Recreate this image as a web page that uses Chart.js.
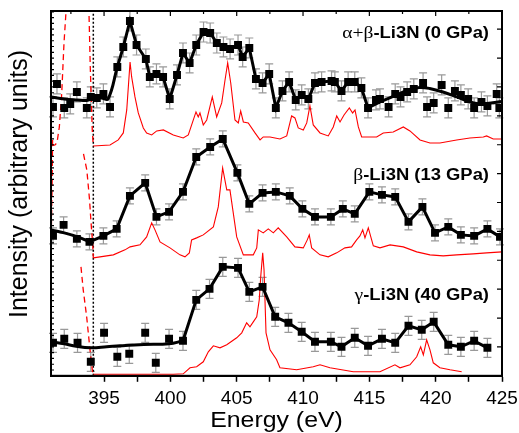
<!doctype html>
<html lang="en">
  <head>
    <meta charset="UTF-8" />
    <title>Li3N - N K-edge spectra</title>
    <script src="https://cdn.jsdelivr.net/npm/chart.js"></script>
    <style>
      html,
      body {
        margin: 0;
        padding: 0;
        background: #fff;
      }
    </style>
  </head>
  <body>
    <canvas id="spectra" width="519" height="433"></canvas>

    <script>
      // measured points [energy (eV), intensity (arb.)]
      const topPts = [
        [391.15, 269], [391.45, 292], [392.0, 268], [392.45, 272], [392.95, 284], [393.7, 268],
        [394.0, 279], [394.45, 278], [394.95, 282], [395.45, 269], [396.0, 309], [396.45, 329],
        [396.95, 355], [397.45, 331], [398.15, 317], [398.45, 299], [398.95, 302], [399.45, 299],
        [399.95, 277], [400.5, 301], [400.95, 323], [401.45, 313], [401.95, 331], [402.5, 344],
        [403.0, 343], [403.5, 333], [404.0, 329], [404.5, 327], [405.1, 331], [405.45, 319],
        [405.95, 328], [406.45, 297], [406.95, 293], [407.45, 302], [407.95, 268], [408.45, 285],
        [408.95, 294], [409.45, 276], [409.9, 281], [410.4, 277], [410.9, 293], [411.4, 294],
        [412.15, 295], [412.4, 294], [412.9, 285], [413.4, 294], [413.9, 294], [414.4, 288],
        [414.9, 268], [415.5, 276], [415.8, 277], [416.45, 269], [416.95, 282], [417.35, 279],
        [417.85, 284], [418.35, 287], [419.05, 293], [419.35, 269], [419.85, 273], [420.45, 291],
        [420.95, 268], [421.45, 285], [421.9, 281], [422.45, 277], [422.9, 268], [423.45, 274],
        [423.9, 270], [424.6, 282], [424.8, 268]
      ]
      const midPts = [
        [391.15, 140], [391.95, 151], [392.95, 137], [393.9, 134], [394.95, 140], [395.95, 147],
        [396.95, 180], [398.1, 193], [398.95, 159], [399.9, 164], [400.95, 184], [401.95, 219],
        [403.0, 229], [403.95, 237], [405.05, 203], [405.95, 172], [406.95, 183], [407.95, 184],
        [409.0, 180], [409.95, 167], [410.9, 159], [412.1, 159], [413.0, 167], [413.9, 162],
        [415.0, 184], [415.95, 181], [416.95, 179], [417.95, 154], [419.0, 169], [419.95, 143],
        [420.95, 149], [421.9, 141], [422.9, 140], [423.9, 147], [424.85, 139]
      ]
      const botPts = [
        [391.15, 33], [392.0, 37], [393.0, 33], [394.0, 14], [395.0, 43], [396.0, 19],
        [396.9, 22], [398.1, 43], [398.9, 13], [399.9, 37], [400.95, 35], [401.95, 76],
        [402.95, 87], [403.95, 109], [405.1, 108], [405.95, 84], [406.95, 89], [407.9, 59],
        [408.9, 53], [409.9, 44], [410.9, 34], [412.1, 34], [412.9, 29], [413.9, 38],
        [414.9, 30], [415.95, 37], [416.95, 33], [417.95, 50], [418.95, 46], [419.85, 54],
        [420.95, 31], [421.9, 29], [422.9, 35], [423.9, 28]
      ]
      // half height of the error bars, per panel
      const errTop = 10
      const errMid = 8
      const errBot = 9.5

      // smooth guide lines where points are not joined
      const topFitLeft = [[391.0, 279], [392.0, 277], [393.0, 276], [393.7, 275.5], [394.2, 277.5], [394.8, 278], [395.3, 277], [396.0, 309]]
      const topFitRight = [[414.9, 268], [415.8, 274], [417.05, 281], [418.05, 286.5], [418.8, 288.5], [419.55, 287.5], [420.55, 284], [421.6, 279], [422.6, 274], [423.1, 272.5], [423.85, 272.5], [425, 274.5]]
      const midFitLeft = [[391.0, 146], [392.0, 143], [393.0, 139], [393.9, 134]]
      const botFitLeft = [[391.0, 34], [392.0, 32], [392.9, 29.5], [394.0, 28], [395.2, 29], [396.2, 30], [398.0, 31.3], [399.9, 32], [400.95, 35]]

      // calculated spectra (red)
      const topCalc = [
        [394.19, 230], [395.45, 231], [396.07, 236], [396.45, 243], [396.71, 266], [396.96, 314],
        [397.08, 299], [397.33, 279], [397.58, 263], [397.96, 248], [398.21, 243], [398.59, 241],
        [398.97, 245], [399.47, 246], [400.22, 241], [400.97, 238], [401.35, 241], [401.73, 256],
        [401.93, 264], [402.1, 259], [402.23, 263], [402.48, 251], [402.74, 256], [403.16, 279],
        [403.49, 259], [403.87, 273], [404.12, 296], [404.32, 313], [404.55, 293], [404.87, 256],
        [405.12, 253], [405.3, 265], [405.5, 254], [405.87, 253], [406.38, 243], [406.76, 236],
        [407.0, 239], [407.51, 239], [408.26, 237], [408.77, 240], [409.14, 260], [409.39, 258],
        [409.64, 248], [410.02, 246], [410.28, 253], [410.52, 270], [410.77, 251], [411.28, 243],
        [411.9, 240], [412.28, 249], [412.54, 260], [412.79, 254], [413.09, 261], [413.49, 268],
        [413.74, 263], [413.92, 266], [414.17, 249], [414.42, 239], [415.05, 239], [415.55, 239],
        [416.05, 243], [416.8, 244], [417.56, 249], [418.06, 245], [418.82, 236], [419.57, 233],
        [420.32, 233], [421.58, 236], [422.58, 238], [423.59, 239], [423.84, 240], [424.34, 237],
        [425, 237]
      ]
      const midCalc = [
        [394.19, 118], [395.7, 121], [396.58, 126], [396.96, 129], [397.71, 131], [398.21, 139],
        [398.59, 153], [398.84, 146], [399.22, 134], [399.97, 128], [400.72, 121], [401.1, 119],
        [401.43, 123], [401.6, 136], [401.98, 138], [402.48, 141], [403.24, 149], [403.61, 169],
        [403.94, 208], [404.25, 186], [404.49, 186], [404.74, 163], [405.0, 139], [405.5, 121],
        [406.25, 121], [406.51, 128], [406.63, 146], [407.0, 143], [407.38, 147], [407.76, 143],
        [408.13, 148], [408.77, 139], [409.39, 129], [410.02, 128], [410.32, 136], [410.47, 141],
        [410.65, 128], [411.28, 121], [411.9, 119], [412.54, 123], [413.16, 128], [413.66, 129],
        [414.04, 136], [414.29, 140], [414.5, 146], [414.67, 138], [414.92, 148], [415.3, 130],
        [415.8, 128], [416.56, 131], [417.56, 129], [418.57, 124], [419.57, 121], [420.57, 120],
        [421.58, 121], [422.83, 122], [423.84, 123], [425, 124]
      ]
      const botCalc = [
        [394.19, 1.5], [400.22, 1.5], [400.97, 2], [401.48, 8], [401.98, 9], [402.48, 14],
        [402.86, 24], [403.24, 30], [403.74, 28], [404.25, 31], [405.0, 38], [405.38, 43],
        [405.75, 53], [406.0, 49], [406.25, 54], [406.51, 59], [406.7, 76], [406.81, 99],
        [406.96, 123], [407.06, 106], [407.21, 43], [407.51, 26], [408.01, 16], [408.26, 8],
        [409.52, 6], [410.77, 9], [411.28, 11], [412.03, 8], [413.79, 4], [415.8, 4],
        [416.93, 11], [417.31, 8], [418.06, 11], [418.57, 19], [418.87, 29], [419.07, 21],
        [419.32, 36], [419.57, 26], [419.82, 13], [420.32, 8], [421.08, 6], [421.96, 4]
      ]
      // off-scale parts of the calculated spectra (dashed)
      const topCalcEdgeA = [[391.0, 230], [391.3, 231], [391.45, 233], [391.63, 249], [391.81, 283], [391.98, 333], [392.13, 364], [392.2, 380]]
      const topCalcEdgeB = [[393.82, 380], [393.86, 365], [393.96, 309], [394.04, 276], [394.11, 246], [394.19, 230]]
      const midCalcEdgeA = [[391.02, 140], [391.08, 190], [391.12, 236]]
      const midCalcEdgeB = [[393.45, 222], [393.7, 206], [393.9, 177], [394.0, 157], [394.07, 144], [394.14, 133], [394.19, 118]]
      const botCalcEdge = [[393.26, 109], [393.43, 86], [393.69, 59], [393.94, 26], [394.14, 3], [394.19, 1.5]]

      const edgeEnergy = 394.19
      const panelGreek = ['α+β', 'β', 'γ']
      const panelNames = ['-Li3N (0 GPa)', '-Li3N (13 GPa)', '-Li3N (40 GPa)']

      const yMax = 365
      const yStep = 28.9
      const sans = '"Liberation Sans", Arial, sans-serif'

      const toXY = (arr) => arr.map(([x, y]) => ({ x, y }))
      const pointSet = (pts, err) => ({
        data: toXY(pts),
        err: err,
        showLine: false,
        pointStyle: 'rect',
        pointRadius: 5.6,
        backgroundColor: '#000',
        borderWidth: 0
      })
      const blackLine = (pts, tension) => ({
        data: toXY(pts),
        showLine: true,
        borderColor: '#000',
        borderWidth: 3,
        pointRadius: 0,
        tension: tension
      })
      const redLine = (pts, dash) => ({
        data: toXY(pts),
        showLine: true,
        borderColor: '#ff0000',
        borderWidth: dash ? 1.3 : 1.1,
        borderDash: dash || [],
        pointRadius: 0,
        clip: 0
      })

      // error bars go under the squares
      const errorBars = {
        id: 'errorBars',
        beforeDatasetsDraw: (chart) => {
          const ys = chart.scales.y
          const c = chart.ctx
          c.save()
          c.strokeStyle = '#999'
          c.lineWidth = 1.2
          chart.data.datasets.forEach((ds, i) => {
            if (!ds.err) return
            chart.getDatasetMeta(i).data.forEach((el, j) => {
              const v = ds.data[j].y
              const y1 = ys.getPixelForValue(v + ds.err)
              const y2 = ys.getPixelForValue(v - ds.err)
              c.beginPath()
              c.moveTo(el.x, y1)
              c.lineTo(el.x, y2)
              c.moveTo(el.x - 4, y1)
              c.lineTo(el.x + 4, y1)
              c.moveTo(el.x - 4, y2)
              c.lineTo(el.x + 4, y2)
              c.stroke()
            })
          })
          c.restore()
        }
      }

      // frame, inward ticks, titles and panel labels
      const decorations = {
        id: 'decorations',
        afterDraw: (chart) => {
          const c = chart.ctx
          const a = chart.chartArea
          const xs = chart.scales.x
          const ys = chart.scales.y
          c.save()
          c.strokeStyle = '#000'
          c.lineWidth = 1.2
          c.beginPath()
          for (let e = 392.5; e < 425; e += 2.5) {
            const x = xs.getPixelForValue(e)
            c.moveTo(x, a.top)
            c.lineTo(x, a.top + (e % 5 === 0 ? 5 : 3))
          }
          for (let v = yStep; v < yMax; v += yStep) {
            const y = ys.getPixelForValue(v)
            c.moveTo(a.right, y)
            c.lineTo(a.right - 5, y)
          }
          for (let v = yStep / 5; v < yMax; v += yStep / 5) {
            const y = ys.getPixelForValue(v)
            c.moveTo(a.left, y)
            c.lineTo(a.left + 3, y)
          }
          c.stroke()
          c.lineWidth = 2
          c.strokeRect(a.left, a.top, a.right - a.left, a.bottom - a.top)

          c.fillStyle = '#000'
          c.save()
          c.translate(20, 184)
          c.rotate(-Math.PI / 2)
          c.font = '25px ' + sans
          c.textAlign = 'center'
          c.textBaseline = 'middle'
          c.fillText('Intensity (arbitrary units)', 0, 0)
          c.restore()

          c.save()
          c.translate((a.left + a.right) / 2, 427)
          c.scale(1.13, 1)
          c.font = '22px ' + sans
          c.textAlign = 'center'
          c.textBaseline = 'alphabetic'
          c.fillText('Energy (eV)', 0, 0)
          c.restore()

          const baselines = [38, 180, 300]
          panelNames.forEach((name, i) => {
            c.save()
            c.translate(a.right - 13, baselines[i])
            c.scale(1.15, 1)
            c.textAlign = 'left'
            c.textBaseline = 'alphabetic'
            c.font = 'bold 16px ' + sans
            const w = c.measureText(name).width
            c.fillText(name, -w, 0)
            c.font = '17px "Liberation Serif", "Times New Roman", serif'
            const g = c.measureText(panelGreek[i]).width
            c.fillText(panelGreek[i], -w - g, 0)
            c.restore()
          })
          c.restore()
        }
      }

      const ctx = document.getElementById('spectra').getContext('2d')
      const spectraChart = new Chart(ctx, {
        type: 'scatter',
        data: {
          datasets: [
            pointSet(topPts, errTop),
            pointSet(midPts, errMid),
            pointSet(botPts, errBot),
            blackLine(topPts.slice(10, 49), 0),
            blackLine(midPts.slice(3), 0),
            blackLine(botPts.slice(10), 0),
            blackLine(topFitLeft, 0.4),
            blackLine(topFitRight, 0.4),
            blackLine(midFitLeft, 0.4),
            blackLine(botFitLeft, 0.4),
            redLine(topCalc),
            redLine(midCalc),
            redLine(botCalc),
            redLine(topCalcEdgeA, [6, 4]),
            redLine(topCalcEdgeB, [6, 4]),
            redLine(midCalcEdgeA, [6, 4]),
            redLine(midCalcEdgeB, [6, 4]),
            redLine(botCalcEdge, [6, 4]),
            {
              data: toXY([[edgeEnergy, 0], [edgeEnergy, yMax]]),
              showLine: true,
              borderColor: '#000',
              borderWidth: 1.5,
              borderDash: [2, 2],
              pointRadius: 0
            }
          ]
        },
        options: {
          responsive: false,
          animation: false,
          events: [],
          layout: { padding: { left: 51, right: 17, top: 11, bottom: 17 } },
          plugins: {
            legend: { display: false },
            tooltip: { enabled: false }
          },
          scales: {
            x: {
              type: 'linear',
              min: 391,
              max: 425,
              ticks: {
                stepSize: 2.5,
                autoSkip: false,
                maxRotation: 0,
                padding: 0,
                color: '#000',
                font: { family: sans, size: 19, lineHeight: 1.8 },
                callback: (v) => (v === 391 ? null : v % 5 === 0 ? String(v) : '')
              },
              grid: { drawOnChartArea: false, tickLength: 6, tickColor: '#000', tickWidth: 1.5 },
              border: { color: '#000', width: 2 }
            },
            y: { display: false, min: 0, max: yMax }
          }
        },
        plugins: [errorBars, decorations]
      })
    </script>
  </body>
</html>
